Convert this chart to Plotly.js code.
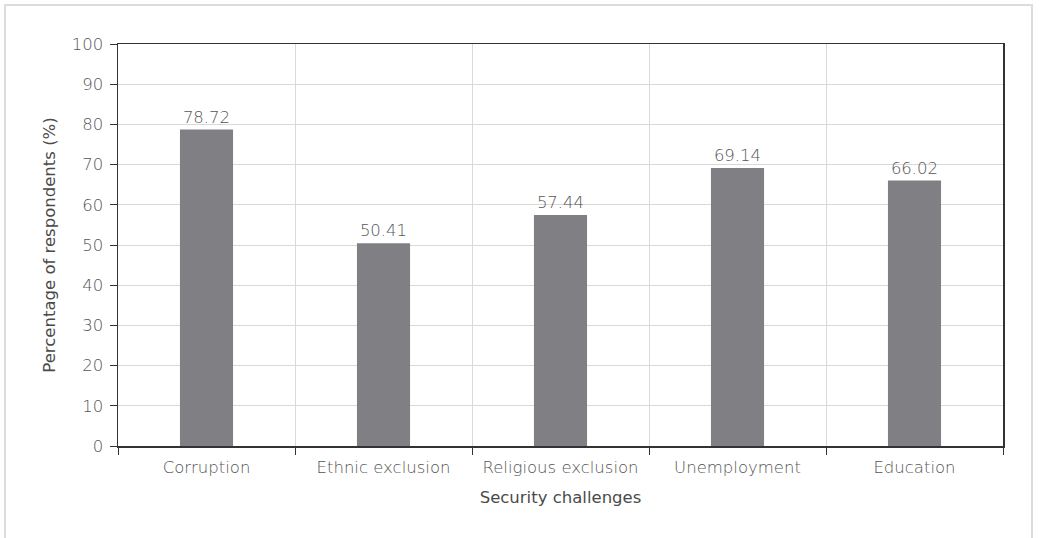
<!DOCTYPE html>
<html>
<head>
<meta charset="utf-8">
<script src="https://cdn.plot.ly/plotly-3.0.1.min.js"></script>
<style>
  html, body { margin: 0; padding: 0; background: #fff; }
  #wrap { position: relative; width: 1040px; height: 538px; }
  #frame { position: absolute; left: 4px; top: 4px; width: 1029px; height: 540px; border: 2px solid #dcdcdc; box-sizing: border-box; pointer-events: none; z-index: 5; }
  #chart { position: absolute; left: 0; top: 0; width: 1040px; height: 538px; }
</style>
</head>
<body>
<div id="wrap">
  <div id="chart"></div>
  <div id="frame"></div>
</div>
<script>
const categories = ["Corruption", "Ethnic exclusion", "Religious exclusion", "Unemployment", "Education"];
const values = [78.72, 50.41, 57.44, 69.14, 66.02];
const valueLabels = ["78.72", "50.41", "57.44", "69.14", "66.02"];
const yTicks = [0, 10, 20, 30, 40, 50, 60, 70, 80, 90, 100];

const lightFam = "DejaVu Sans, Liberation Sans, sans-serif";
const titleFam = "DejaVu Sans, Liberation Sans, sans-serif";
const lightColor = "#555555";

const trace = {
  type: "bar",
  x: categories,
  y: values,
  text: valueLabels,
  textposition: "outside",
  cliponaxis: false,
  textfont: { family: lightFam, size: 16.5, color: lightColor, weight: 300 },
  marker: { color: "#808084" },
  hoverinfo: "x+y"
};

const layout = {
  width: 1040,
  height: 538,
  margin: { l: 118, r: 37, t: 44, b: 92 },
  paper_bgcolor: "#fff",
  plot_bgcolor: "#fff",
  bargap: 0.7,
  showlegend: false,
  font: { family: lightFam, size: 16.5, color: lightColor },
  xaxis: {
    type: "category",
    tickson: "boundaries",
    ticks: "outside",
    ticklen: 7,
    tickcolor: "#333",
    ticklabelstandoff: 6,
    showgrid: true,
    gridcolor: "#d9d9d9",
    gridwidth: 1,
    showline: true,
    linecolor: "#333",
    linewidth: 1.5,
    mirror: true,
    tickfont: { family: lightFam, size: 16.5, color: lightColor, weight: 300 },
    title: { text: "Security challenges", font: { family: titleFam, size: 16.5, color: "#4a4a4a" }, standoff: 15 }
  },
  yaxis: {
    range: [0, 100],
    tickvals: yTicks,
    ticktext: yTicks.map(String),
    ticks: "outside",
    ticklen: 7,
    tickcolor: "#333",
    ticklabelstandoff: 3,
    showgrid: true,
    gridcolor: "#d9d9d9",
    gridwidth: 1,
    zeroline: false,
    showline: true,
    linecolor: "#333",
    linewidth: 1.5,
    mirror: true,
    tickfont: { family: lightFam, size: 16.5, color: lightColor, weight: 300 },
    title: { text: "Percentage of respondents (%)", font: { family: titleFam, size: 16.5, color: "#4a4a4a" }, standoff: 12 }
  }
};

Plotly.newPlot("chart", [trace], layout, { displayModeBar: false, staticPlot: true });
</script>
</body>
</html>
